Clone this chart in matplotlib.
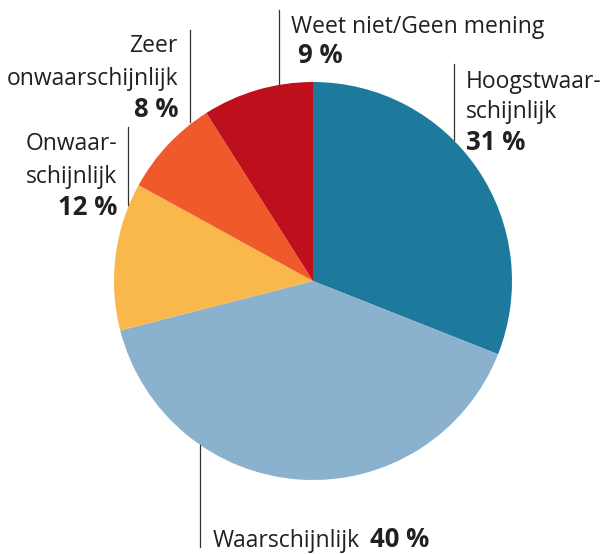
import matplotlib.pyplot as plt

# data
categorieen = ['Hoogstwaar-\nschijnlijk', 'Waarschijnlijk', 'Onwaar-\nschijnlijk',
               'Zeer\nonwaarschijnlijk', 'Weet niet/Geen mening']
waarden = [31, 40, 12, 8, 9]
kleuren = ['#1d7a9d', '#8ab1cd', '#f9b84b', '#f05a2b', '#be0f1c']

fig = plt.figure(figsize=(6.06, 5.54), dpi=100)
ax = fig.add_axes([0, 0, 1, 1])

# taart, met de klok mee vanaf boven (y-as is omgekeerd, dus hoeken gespiegeld)
ax.pie(waarden, colors=kleuren, startangle=-90, counterclock=True,
       center=(313, 281), radius=199, frame=True,
       wedgeprops=dict(linewidth=0))
ax.set_xlim(0, 606)
ax.set_ylim(554, 0)
ax.set_aspect('auto')
ax.axis('off')

fnt = 'Open Sans'
fs = 16.5
fs_b = 18.5
tk = '#231f20'
lijn = dict(color='#333333', lw=0.9)

def label(x, y_regels, tekst_regels, pct, ha):
    for y, t in zip(y_regels, tekst_regels):
        ax.text(x, y, t, ha=ha, va='baseline', fontsize=fs, family=fnt, color=tk)
    ax.text(x, pct[0], f'{pct[1]} %', ha=ha, va='baseline', fontsize=fs_b,
            family=fnt, fontweight='bold', color=tk)

# Weet niet/Geen mening
ax.plot([279, 279], [10, 84], **lijn)
ax.text(291, 33, categorieen[4], ha='left', va='baseline', fontsize=fs, family=fnt, color=tk)
ax.text(298, 63, f'{waarden[4]} %', ha='left', va='baseline', fontsize=fs_b, family=fnt,
        fontweight='bold', color=tk)

# Hoogstwaarschijnlijk
ax.plot([454, 454], [64, 140], **lijn)
label(466, [88, 118], categorieen[0].split('\n'), (150, waarden[0]), 'left')

# Zeer onwaarschijnlijk
ax.plot([190, 190], [30, 122], **lijn)
label(178, [52, 85], categorieen[3].split('\n'), (117, waarden[3]), 'right')

# Onwaarschijnlijk
ax.plot([128, 128], [127, 205], **lijn)
label(117, [150, 183], categorieen[2].split('\n'), (215, waarden[2]), 'right')

# Waarschijnlijk
ax.plot([200, 200], [445, 547], **lijn)
t = ax.text(213, 547, categorieen[1], ha='left', va='baseline', fontsize=fs, family=fnt, color=tk)
fig.canvas.draw()
bb = t.get_window_extent()
x_end = ax.transData.inverted().transform((bb.x1, bb.y0))[0]
ax.text(x_end + 10, 547, f'{waarden[1]} %', ha='left', va='baseline', fontsize=fs_b,
        family=fnt, fontweight='bold', color=tk)

fig.savefig('out.png', dpi=100)
